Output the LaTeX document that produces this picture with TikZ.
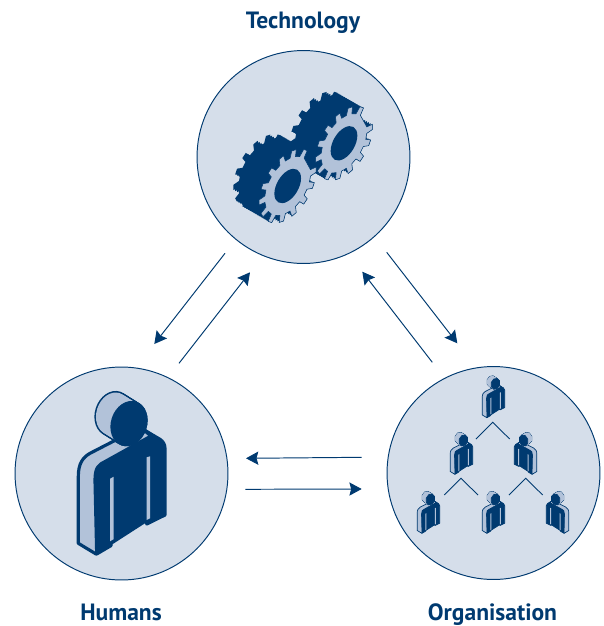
\documentclass[tikz,border=0pt]{standalone}
\usepackage{fontspec}
\setmainfont{PT Sans}
\usetikzlibrary{arrows.meta}
\definecolor{navy}{HTML}{003A70}
\definecolor{paleblue}{HTML}{D5DEEA}
\definecolor{midblue}{HTML}{B2C2D9}
\tikzset{
  gearteeth/.style={insert path={
    (-7:26.5) \foreach \a in {0,25.714,...,334} {
      -- (\a-7:26.5) -- (\a-4.5:33) -- (\a+4.5:33) -- (\a+7:26.5)
    } -- cycle}},
  gearplane/.style={x={(.01732cm,.01cm)},y={(0cm,-.02cm)}},
  pics/gear/.style={code={
    \foreach \s in {0,...,14}
      \fill[navy,shift={(-1.85*\s,-1.07*\s)},gearplane,gearteeth];
    \fill[midblue,draw=navy,line width=.3pt,gearplane,gearteeth];
    \fill[navy,gearplane] (0,0) circle (15.4);
  }},
  headshape/.style={rotate=-18},
  pics/person/.style={code={
    \draw[line join=round,draw=navy,line width=#1,fill=midblue] (-42.7,70) -- (-42.7,3.3) .. controls (-42.7,-10) and (-38,-16) .. (-31,-20)
      -- (-7.7,-32) -- (22.3,-44) -- (31,-38) -- (-25,80.7) -- cycle;
    \draw[line join=round,draw=navy,line width=#1,fill=navy] (-24.3,80.7) -- (-26,6.7) .. controls (-26,-6) and (-22,-9) .. (-16,-11.7)
      -- (30,-37.3) -- (22,-44) -- (39,-34) .. controls (42,-32) and (44,-29) .. (44,-25)
      -- (44,41.7) -- (25.7,50.7) -- (25.7,47) -- (-10,70) -- (-10,72.3) -- cycle;
    \fill[midblue] (-11,5.5) -- (-7.5,3.5) -- (-7.5,66) -- (-11,68) -- cycle;
    \fill[midblue] (25.7,-16) -- (29,-17) -- (29,45) -- (25.7,46.7) -- cycle;
    \foreach \s in {0,...,10}
      \draw[draw=navy,line width=#1,fill=navy,shift={(-8+1.6*\s,-59.7+\s)},headshape] (0,0) ellipse [x radius=16.5,y radius=21.5];
    \foreach \s in {0,...,10}
      \fill[midblue,shift={(-8+1.6*\s,-59.7+\s)},headshape] (0,0) ellipse [x radius=16.5,y radius=21.5];
    \draw[draw=navy,line width=#1,fill=navy,shift={(8,-49.7)},headshape] (0,0) ellipse [x radius=16.5,y radius=21.5];
  }},
  pics/person/.default=.4pt,
  twoway/.style={draw=navy,line width=.55pt,-{Stealth[length=7pt,width=7.5pt,inset=1pt]}},
  branch/.style={draw=navy,line width=.5pt},
  smallperson/.style={scale=.26},
}
\begin{document}
\begin{tikzpicture}[x=.02cm,y=-.02cm]

  \useasboundingbox (0,0) rectangle (604,626);

  \begin{scope}[every node/.style={circle,draw=navy,fill=paleblue,line width=.55pt,minimum size=4.26cm,inner sep=0pt}]
    \node (tech) at (303.5,157)   {};
    \node (hum)  at (121.5,473.5) {};
    \node (org)  at (493.5,473)   {};
  \end{scope}

  \begin{scope}[every node/.style={text=navy,font=\bfseries\fontsize{13.4}{16}\selectfont,anchor=base,inner sep=0pt}]
    \node (techlabel) at (303,28)  {Technology};
    \node (humlabel)  at (121,620) {Humans};
    \node (orglabel)  at (492.5,620) {Organisation};
  \end{scope}

  % gears
  \pic (backgear)  at (344,143.3) {gear};
  \pic (frontgear) at (287.7,186) {gear};

  % people
  \pic (bigperson) at (121,473.3) {person=1.8pt};
  \pic[smallperson] (p1) at (493.3,396.7) {person};
  \pic[smallperson] (p2) at (461.3,453.3) {person};
  \pic[smallperson,xscale=-1] (p3) at (525.7,453.3) {person};
  \pic[smallperson] (p4) at (428.3,512.3) {person};
  \pic[smallperson] (p5) at (493.3,512.3) {person};
  \pic[smallperson,xscale=-1] (p6) at (557.7,512.3) {person};

  % arrows
  \coordinate (a1) at (225,253.3);
  \coordinate (a2) at (154.3,344);
  \coordinate (a3) at (179,363.3);
  \coordinate (a4) at (250,272.3);
  \coordinate (a5) at (386.7,252.3);
  \coordinate (a6) at (457.3,343.3);
  \coordinate (a7) at (432.3,362.3);
  \coordinate (a8) at (362.3,271.7);
  \coordinate (a9) at (361.7,457.3);
  \coordinate (a10) at (246,458.3);
  \coordinate (a11) at (245.3,489.3);
  \coordinate (a12) at (361.7,489);
  \draw[twoway] (a1) -- (a2);
  \draw[twoway] (a3) -- (a4);
  \draw[twoway] (a5) -- (a6);
  \draw[twoway] (a7) -- (a8);
  \draw[twoway] (a9) -- (a10);
  \draw[twoway] (a11) -- (a12);

  % tree
  \coordinate (t1) at (476,439);
  \coordinate (t2) at (492.7,422.3);
  \coordinate (t3) at (509.7,439);
  \coordinate (t4) at (444.3,495);
  \coordinate (t5) at (461,478.3);
  \coordinate (t6) at (478,495);
  \coordinate (t7) at (509,495);
  \coordinate (t8) at (525.7,478.3);
  \coordinate (t9) at (542.7,495);
  \draw[branch] (t1) -- (t2) -- (t3);
  \draw[branch] (t4) -- (t5) -- (t6);
  \draw[branch] (t7) -- (t8) -- (t9);

\end{tikzpicture}
\end{document}
